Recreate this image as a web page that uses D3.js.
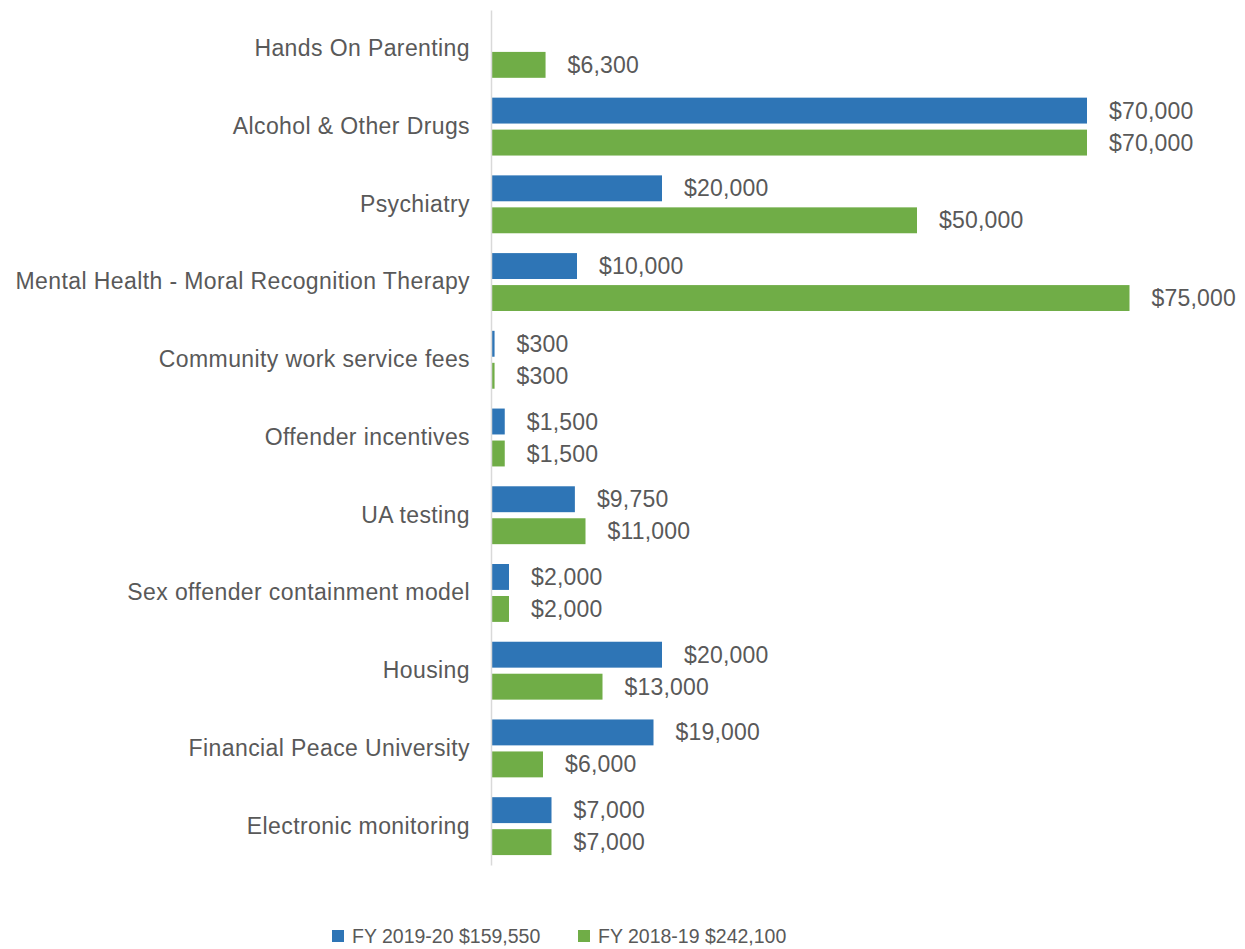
<!DOCTYPE html>
<html>
<head>
<meta charset="utf-8">
<script src="https://cdn.jsdelivr.net/npm/d3@7"></script>
<style>
  body { margin: 0; background: #fff; }
  svg text { font-family: "Liberation Sans", Arial, sans-serif; fill: #595959; }
</style>
</head>
<body>
<div id="chart"></div>
<script>
const categories = [
  'Hands On Parenting',
  'Alcohol & Other Drugs',
  'Psychiatry',
  'Mental Health - Moral Recognition Therapy',
  'Community work service fees',
  'Offender incentives',
  'UA testing',
  'Sex offender containment model',
  'Housing',
  'Financial Peace University',
  'Electronic monitoring'
];
const fy2019 = [null, 70000, 20000, 10000, 300, 1500, 9750, 2000, 20000, 19000, 7000];
const fy2018 = [6300, 70000, 50000, 75000, 300, 1500, 11000, 2000, 13000, 6000, 7000];
const seriesNames = ['FY 2019-20 $159,550', 'FY 2018-19 $242,100'];
const colors = ['#2E75B6', '#70AD47'];

const width = 1245;
const height = 949;
const margin = { top: 10, left: 492, bottom: 84, right: 73 };

const svg = d3.select('#chart').append('svg')
  .attr('width', width)
  .attr('height', height);

const x = d3.scaleLinear()
  .domain([0, 80000])
  .range([margin.left, width - margin.right]);

const y0 = d3.scaleBand()
  .domain(categories)
  .range([margin.top, height - margin.bottom]);

const y1 = d3.scaleBand()
  .domain([0, 1])
  .range([0, y0.bandwidth()])
  .paddingInner(0.19)
  .paddingOuter(0.31);

const fmt = d3.format(',');
const rows = categories.map((c, i) => ({ cat: c, vals: [fy2019[i], fy2018[i]] }));

const groups = svg.selectAll('g.cat')
  .data(rows)
  .enter()
  .append('g')
  .attr('class', 'cat')
  .attr('transform', (d) => `translate(0,${y0(d.cat)})`);

const cells = groups.selectAll('g.bar')
  .data((d) => d.vals.map((v, s) => ({ v, s })).filter((e) => e.v !== null))
  .enter()
  .append('g');

cells.append('rect')
  .attr('x', x(0))
  .attr('y', (d) => y1(d.s))
  .attr('width', (d) => x(d.v) - x(0))
  .attr('height', y1.bandwidth())
  .style('fill', (d) => colors[d.s]);

cells.append('text')
  .attr('x', (d) => x(d.v) + 22)
  .attr('y', (d) => y1(d.s) + y1.bandwidth() / 2)
  .attr('dy', '0.35em')
  .style('font-size', '23px')
  .style('letter-spacing', '0.2px')
  .text((d) => '$' + fmt(d.v));

// category axis
const yAxis = svg.append('g')
  .attr('transform', `translate(${margin.left - 1},0)`)
  .call(d3.axisLeft(y0).tickSize(0).tickPadding(21));
yAxis.select('.domain').attr('stroke', '#d9d9d9').attr('stroke-width', 1.5);
yAxis.selectAll('text')
  .style('font-size', '23px')
  .style('letter-spacing', '0.4px')
  .attr('fill', '#595959')
  .style('font-family', '"Liberation Sans", Arial, sans-serif');

// legend
const legendX = [332, 578];
const legend = svg.selectAll('g.legend')
  .data(seriesNames)
  .enter()
  .append('g')
  .attr('transform', (d, i) => `translate(${legendX[i]},930)`);
legend.append('rect')
  .attr('width', 12)
  .attr('height', 12)
  .style('fill', (d, i) => colors[i]);
legend.append('text')
  .attr('x', 20)
  .attr('y', 6)
  .attr('dy', '0.35em')
  .style('font-size', '19.5px')
  .text((d) => d);
</script>
</body>
</html>
